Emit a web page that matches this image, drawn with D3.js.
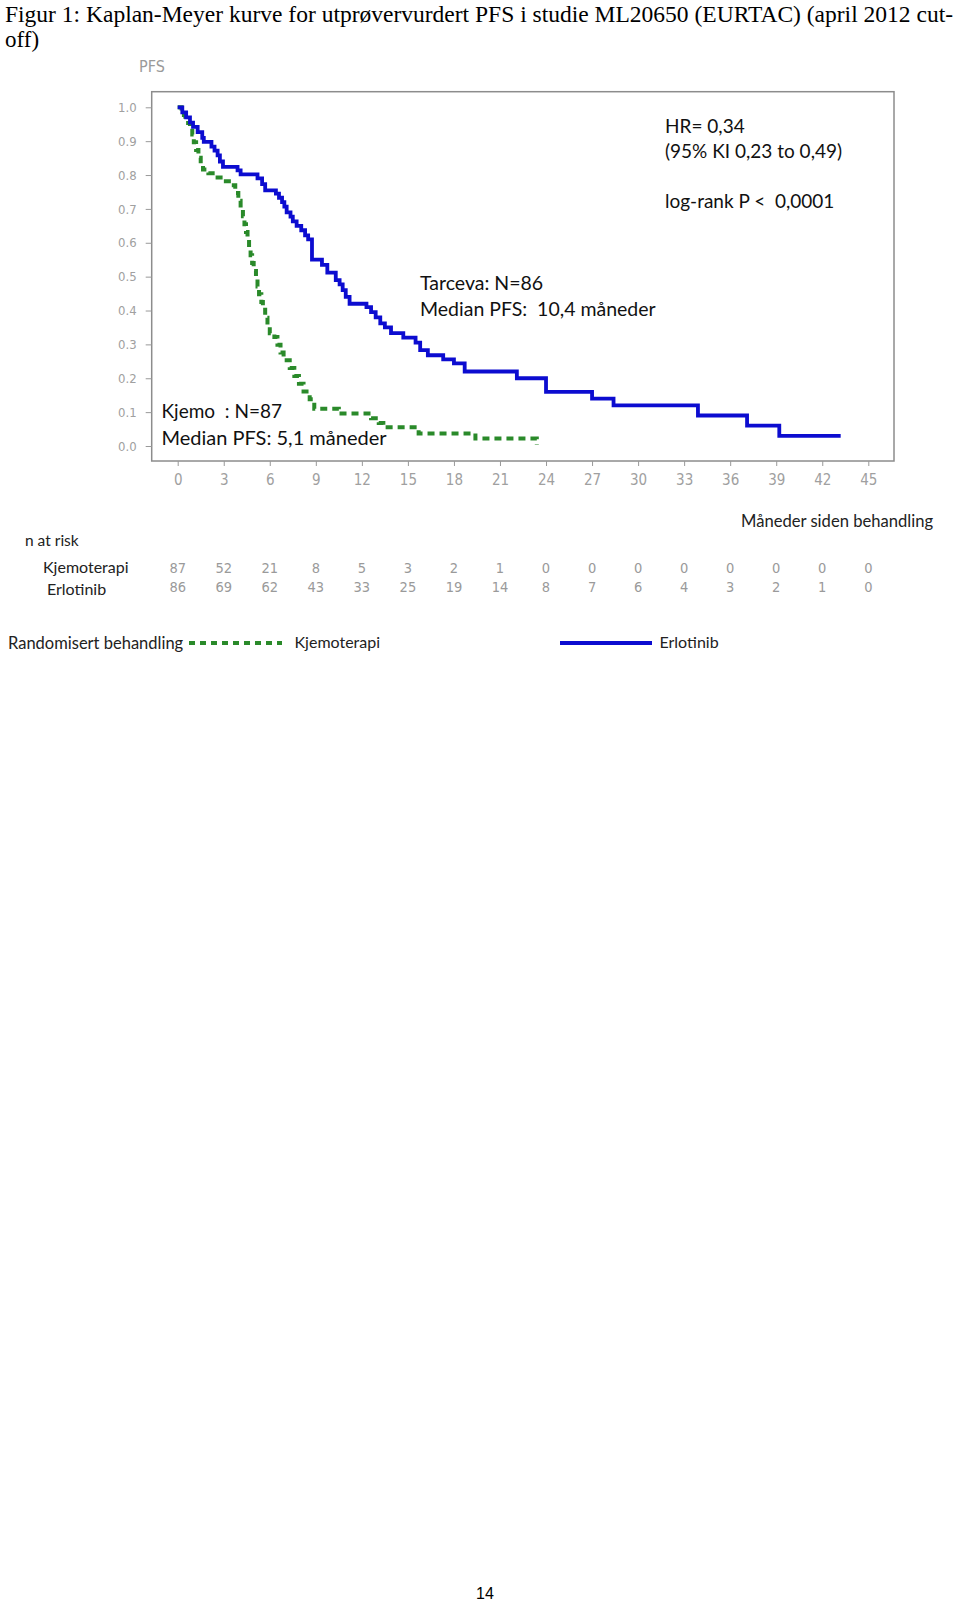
<!DOCTYPE html>
<html>
<head>
<meta charset="utf-8">
<script src="https://cdn.jsdelivr.net/npm/d3@7"></script>
<style>
  html, body { margin: 0; padding: 0; background: #fff; }
  svg { display: block; }
  text { white-space: pre; }
</style>
</head>
<body>
<script>
// ---------- DATA ----------
const titleLines = ["Figur 1: Kaplan-Meyer kurve for utprøvervurdert PFS i studie ML20650 (EURTAC) (april 2012 cut-", "off)"];
const xTicks = [0, 3, 6, 9, 12, 15, 18, 21, 24, 27, 30, 33, 36, 39, 42, 45];
const yTicks = [0, 0.1, 0.2, 0.3, 0.4, 0.5, 0.6, 0.7, 0.8, 0.9, 1.0];
const seriesNames = ["Kjemoterapi", "Erlotinib"];

// Kaplan-Meier step points [months, PFS]
const kjemoCurve = [
  [0, 1.0], [0.25, 0.977], [0.5, 0.954], [0.8, 0.943], [0.95, 0.92], [1.05, 0.897],
  [1.2, 0.874], [1.35, 0.851], [1.5, 0.828], [1.65, 0.816], [2.0, 0.805], [2.6, 0.793],
  [3.0, 0.782], [3.5, 0.770], [3.75, 0.747], [3.95, 0.724], [4.1, 0.701], [4.25, 0.678],
  [4.35, 0.655], [4.45, 0.632], [4.55, 0.609], [4.65, 0.586], [4.75, 0.563], [4.85, 0.540],
  [4.95, 0.517], [5.1, 0.494], [5.2, 0.471], [5.3, 0.448], [5.45, 0.425], [5.55, 0.402],
  [5.7, 0.379], [5.85, 0.356], [6.0, 0.333], [6.3, 0.322], [6.5, 0.299], [6.7, 0.276],
  [6.9, 0.253], [7.3, 0.230], [7.6, 0.207], [7.9, 0.184], [8.2, 0.161], [8.6, 0.138],
  [8.9, 0.110], [10.5, 0.096], [12.6, 0.082], [13.1, 0.068], [13.4, 0.055], [15.7, 0.037],
  [19.4, 0.022], [23.4, 0.004]
];
const erlotinibCurve = [
  [0, 1.0], [0.3, 0.985], [0.55, 0.97], [0.8, 0.955], [1.0, 0.942], [1.3, 0.927],
  [1.6, 0.91], [1.7, 0.898], [2.2, 0.884], [2.4, 0.872], [2.6, 0.858], [2.75, 0.84],
  [2.95, 0.824], [3.9, 0.814], [4.1, 0.802], [5.2, 0.79], [5.5, 0.773], [5.7, 0.755],
  [6.4, 0.745], [6.6, 0.733], [6.8, 0.72], [6.95, 0.707], [7.1, 0.69], [7.35, 0.677],
  [7.5, 0.663], [7.75, 0.65], [8.05, 0.637], [8.3, 0.622], [8.5, 0.61], [8.75, 0.55],
  [9.4, 0.535], [9.75, 0.512], [10.3, 0.49], [10.55, 0.477], [10.75, 0.46], [10.95, 0.44],
  [11.2, 0.42], [12.3, 0.41], [12.6, 0.395], [12.9, 0.38], [13.2, 0.362], [13.5, 0.35],
  [13.9, 0.333], [14.7, 0.32], [15.5, 0.305], [15.8, 0.283], [16.3, 0.268], [17.3, 0.256],
  [18.0, 0.244], [18.7, 0.22], [22.1, 0.20], [24.0, 0.16], [27.0, 0.14], [28.4, 0.12],
  [33.9, 0.09], [37.1, 0.06], [39.2, 0.03], [43.2, 0.03]
];

const atRiskKjemo = [87, 52, 21, 8, 5, 3, 2, 1, 0, 0, 0, 0, 0, 0, 0, 0];
const atRiskErlotinib = [86, 69, 62, 43, 33, 25, 19, 14, 8, 7, 6, 4, 3, 2, 1, 0];

const annotHR = ["HR= 0,34", "(95% KI 0,23 to 0,49)", "log-rank P <  0,0001"];
const annotTarceva = ["Tarceva: N=86", "Median PFS:  10,4 måneder"];
const annotKjemo = ["Kjemo  : N=87", "Median PFS: 5,1 måneder"];

// ---------- DRAW ----------
const W = 960, H = 1603;
const svg = d3.select("body").append("svg").attr("width", W).attr("height", H);
svg.append("rect").attr("width", W).attr("height", H).attr("fill", "#fff");

const sansC = "Lato, 'Open Sans', sans-serif";
const condensed = "'DejaVu Sans Condensed', 'Liberation Sans Narrow', 'DejaVu Sans', sans-serif";
const serif = "'Liberation Serif', 'Times New Roman', serif";

// title
svg.append("text").attr("x", 5).attr("y", 22).attr("font-family", serif)
  .attr("font-size", 23).attr("fill", "#000")
  .attr("textLength", 948).attr("lengthAdjust", "spacingAndGlyphs").text(titleLines[0]);
svg.append("text").attr("x", 5).attr("y", 47).attr("font-family", serif)
  .attr("font-size", 23).attr("fill", "#000").text(titleLines[1]);

const x = d3.scaleLinear().domain([0, 45]).range([177.7, 868.3]);
const y = d3.scaleLinear().domain([0, 1]).range([446, 107.3]);

const frame = {x0: 151.7, x1: 894, y0: 91.7, y1: 461};

// PFS label
svg.append("text").attr("x", 139).attr("y", 72).attr("font-family", condensed)
  .attr("font-size", 16).attr("fill", "#9a9a9a").text("PFS");

// frame
svg.append("rect").attr("x", frame.x0).attr("y", frame.y0)
  .attr("width", frame.x1 - frame.x0).attr("height", frame.y1 - frame.y0)
  .attr("fill", "none").attr("stroke", "#8c8c8c").attr("stroke-width", 1.5);

// axes
const xAxis = svg.append("g").attr("transform", `translate(0,${frame.y1})`)
  .call(d3.axisBottom(x).tickValues(xTicks).tickSize(5).tickPadding(8).tickFormat(d3.format("d")));
xAxis.select(".domain").remove();
xAxis.selectAll("line").attr("stroke", "#999");
xAxis.selectAll("text").attr("font-family", condensed).attr("font-size", 15).attr("fill", "#a0a0a0");

const yAxis = svg.append("g").attr("transform", `translate(${frame.x0},0)`)
  .call(d3.axisLeft(y).tickValues(yTicks).tickSize(6).tickPadding(9).tickFormat(d3.format(".1f")));
yAxis.select(".domain").remove();
yAxis.selectAll("line").attr("stroke", "#999");
yAxis.selectAll("text").attr("font-family", condensed).attr("font-size", 13).attr("fill", "#a0a0a0");

// curves
const line = d3.line().x(d => x(d[0])).y(d => y(d[1])).curve(d3.curveStepAfter);
svg.append("path").datum(kjemoCurve).attr("d", line)
  .attr("fill", "none").attr("stroke", "#2a8a2a").attr("stroke-width", 4)
  .attr("stroke-dasharray", "7,5");
svg.append("path").datum(erlotinibCurve).attr("d", line)
  .attr("fill", "none").attr("stroke", "#0c0cd0").attr("stroke-width", 3.8);

// annotations
function block(lines, x0, y0, dy, size) {
  lines.forEach((t, i) => {
    svg.append("text").attr("x", x0).attr("y", y0 + i * dy).attr("font-family", sansC)
      .attr("font-size", Array.isArray(size) ? size[i] : size).attr("fill", "#111").text(t);
  });
}
block(annotHR.slice(0, 2), 665, 133, 25, 19);
block([annotHR[2]], 665, 208, 0, 19);
block(annotTarceva, 420, 290, 26, 19.5);
block(annotKjemo, 161.5, 418, 27, [19, 20]);

// axis title
svg.append("text").attr("x", 741).attr("y", 527).attr("font-family", sansC)
  .attr("font-size", 16.6).attr("fill", "#222").text("Måneder siden behandling");

// at risk table
svg.append("text").attr("x", 25).attr("y", 546).attr("font-family", sansC)
  .attr("font-size", 15.5).attr("fill", "#222").text("n at risk");
svg.append("text").attr("x", 43).attr("y", 573).attr("font-family", sansC)
  .attr("font-size", 16).attr("fill", "#222").text(seriesNames[0]);
svg.append("text").attr("x", 47).attr("y", 595).attr("font-family", sansC)
  .attr("font-size", 16).attr("fill", "#222").text(seriesNames[1]);

svg.append("g").selectAll("text").data(atRiskKjemo).join("text")
  .attr("x", (d, i) => x(xTicks[i])).attr("y", 572.5).attr("text-anchor", "middle")
  .attr("font-family", condensed).attr("font-size", 14.5).attr("fill", "#9a9a9a").text(d => d);
svg.append("g").selectAll("text").data(atRiskErlotinib).join("text")
  .attr("x", (d, i) => x(xTicks[i])).attr("y", 592).attr("text-anchor", "middle")
  .attr("font-family", condensed).attr("font-size", 14.5).attr("fill", "#9a9a9a").text(d => d);

// legend
svg.append("text").attr("x", 8).attr("y", 648.5).attr("font-family", sansC)
  .attr("font-size", 16.5).attr("fill", "#222").text("Randomisert behandling");
svg.append("line").attr("x1", 189).attr("x2", 282).attr("y1", 643).attr("y2", 643)
  .attr("stroke", "#2a8a2a").attr("stroke-width", 4).attr("stroke-dasharray", "6,5");
svg.append("text").attr("x", 294.5).attr("y", 648).attr("font-family", sansC)
  .attr("font-size", 16).attr("fill", "#222").text(seriesNames[0]);
svg.append("line").attr("x1", 560).attr("x2", 652).attr("y1", 643).attr("y2", 643)
  .attr("stroke", "#0c0cd0").attr("stroke-width", 4);
svg.append("text").attr("x", 659.5).attr("y", 648).attr("font-family", sansC)
  .attr("font-size", 16).attr("fill", "#222").text(seriesNames[1]);

// page number
svg.append("text").attr("x", 485).attr("y", 1599).attr("text-anchor", "middle")
  .attr("font-family", "'Liberation Sans', Arial, sans-serif").attr("font-size", 16)
  .attr("fill", "#000").text("14");
</script>
</body>
</html>
